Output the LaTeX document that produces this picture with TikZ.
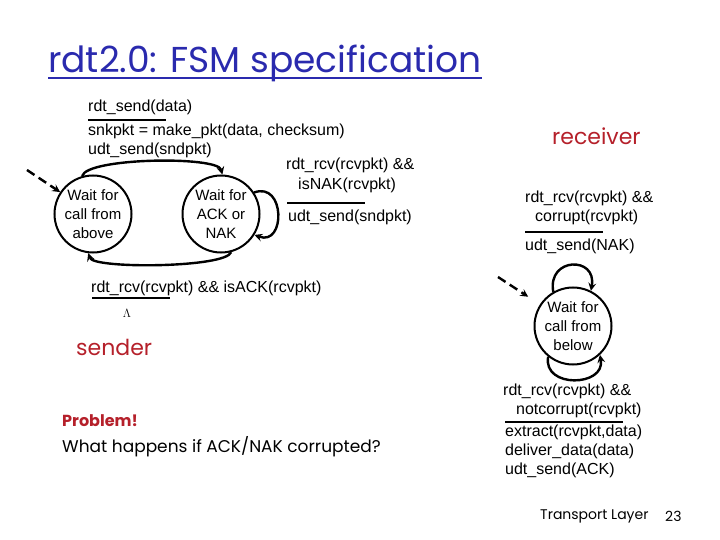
\documentclass[tikz,border=0pt]{standalone}
\usepackage{fontspec}
\setmainfont{Liberation Sans}
\newfontfamily\comicfont{Poppins}
\usetikzlibrary{arrows,positioning}
\definecolor{slideblue}{HTML}{2A2AAE}
\definecolor{slidered}{HTML}{B5202A}

\begin{document}
\begin{tikzpicture}[x=1pt,y=1pt,
  state/.style={draw, circle, line width=2pt, minimum size=77pt, inner sep=0pt,
                align=center, font=\fontsize{15}{19}\selectfont},
  trans/.style={->, >=stealth, line width=2.4pt},
  initarrow/.style={->, >=stealth, line width=2.4pt, dash pattern=on 9pt off 5pt},
  lbl/.style={anchor=west, inner sep=0pt, font=\fontsize{16}{19}\selectfont},
  bar/.style={line width=2.2pt},
  comic/.style={anchor=west, inner sep=0pt}
]
  \useasboundingbox (0,0) rectangle (720,-540);

  % title
  \node[comic, text=slideblue, font=\comicfont\fontsize{36}{42}\selectfont] (title) at (48,-63) {rdt2.0: FSM specification};
  \draw[slideblue, line width=1.8pt] ([yshift=-6pt]title.base west) -- ([yshift=-6pt]title.base east);

  % sender states
  \node[state] (above) at (93,-214) {Wait for\\call from\\above};
  \node[state] (acknak) at (221,-214) {Wait for\\ACK or\\NAK};
  \coordinate (sinit) at (27,-170);

  % receiver state
  \node[state] (below) at (573,-326) {Wait for\\call from\\below};
  \coordinate (rinit) at (498,-277);

  % sender transitions
  \draw[initarrow] (sinit) -- (above);
  \draw[trans] (above.106) to[out=75, in=105, looseness=0.35] (acknak.88);
  \draw[trans] (acknak.-75) to[out=-110, in=-70, looseness=0.3] (above.-97);
  \draw[trans] (acknak.33) to[out=20, in=-20, looseness=2] (acknak.-32);

  % receiver transitions
  \draw[initarrow, shorten >=14pt] (rinit) -- (below);
  \draw[trans] (below.120) to[out=100, in=80, looseness=2.4] (below.63);
  \draw[trans] (below.-129) to[out=-100, in=-80, looseness=1.6] (below.-47);

  % sender labels
  \node[lbl] (sendguard) at (88,-107) {rdt\_send(data)};
  \draw[bar] (88,-120) -- (166,-120);
  \node[lbl] (sendact1) at (88,-131) {snkpkt = make\_pkt(data, checksum)};
  \node[lbl] (sendact2) at (88,-150) {udt\_send(sndpkt)};

  \node[lbl] (nakguard1) at (286,-165) {rdt\_rcv(rcvpkt) \&\&};
  \node[lbl] (nakguard2) at (298,-185) {isNAK(rcvpkt)};
  \draw[bar] (287,-203) -- (365,-203);
  \node[lbl] (nakact) at (288,-217) {udt\_send(sndpkt)};

  \node[lbl] (ackguard) at (91,-288) {rdt\_rcv(rcvpkt) \&\& isACK(rcvpkt)};
  \draw[bar] (92,-298) -- (170,-298);
  \node[inner sep=0pt, font=\fontsize{13}{13}\selectfont] (lambda) at (127,-313) {$\Lambda$};

  \node[comic, text=slidered, font=\comicfont\fontsize{22}{26}\selectfont] (sender) at (76,-347) {sender};

  \node[comic, text=slidered, font=\comicfont\bfseries\fontsize{16}{19}\selectfont] (problem) at (62,-421) {Problem!};
  \node[comic, font=\comicfont\fontsize{17}{20}\selectfont] (question) at (62,-447) {What happens if ACK/NAK corrupted?};

  % receiver labels
  \node[comic, text=slidered, font=\comicfont\fontsize{22}{26}\selectfont] (receiver) at (552,-136) {receiver};

  \node[lbl] (corrguard1) at (525,-198) {rdt\_rcv(rcvpkt) \&\&};
  \node[lbl] (corrguard2) at (535,-217) {corrupt(rcvpkt)};
  \draw[bar] (525,-232) -- (603,-232);
  \node[lbl] (corract) at (525,-246) {udt\_send(NAK)};

  \node[lbl] (okguard1) at (503,-391) {rdt\_rcv(rcvpkt) \&\&};
  \node[lbl] (okguard2) at (516,-410) {notcorrupt(rcvpkt)};
  \draw[bar] (505,-422) -- (623,-422);
  \node[lbl] (okact1) at (505,-432) {extract(rcvpkt,data)};
  \node[lbl] (okact2) at (505,-451) {deliver\_data(data)};
  \node[lbl] (okact3) at (505,-470) {udt\_send(ACK)};

  % footer
  \node[comic, font=\comicfont\fontsize{14}{16}\selectfont] (footer) at (540,-516) {Transport Layer};
  \node[comic, font=\comicfont\fontsize{14}{16}\selectfont] (pagenum) at (665,-516) {23};
\end{tikzpicture}
\end{document}
